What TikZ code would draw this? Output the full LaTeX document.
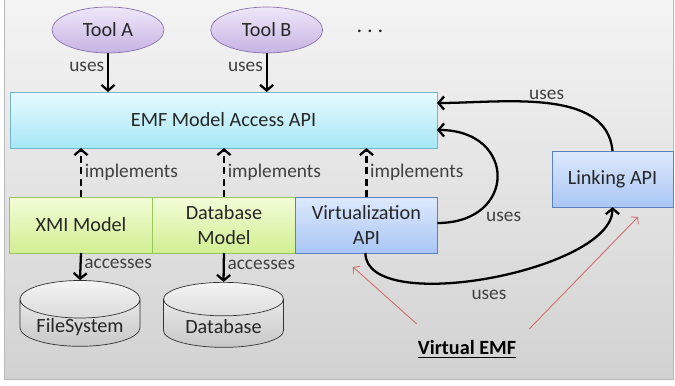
\documentclass[tikz,border=0pt]{standalone}
\usepackage{fontspec}
\setmainfont{Carlito}
\usetikzlibrary{shapes,arrows.meta,positioning,calc}
\definecolor{bgtop}{HTML}{F4F4F4}
\definecolor{bgbot}{HTML}{D2D2D2}
\definecolor{tooltop}{HTML}{EFE7F9}
\definecolor{toolbot}{HTML}{C7B3E3}
\definecolor{toolline}{HTML}{8A72B2}
\definecolor{emftop}{HTML}{E8FBFE}
\definecolor{emfbot}{HTML}{A6E6F6}
\definecolor{emfline}{HTML}{70B6C8}
\definecolor{modtop}{HTML}{F2FCD8}
\definecolor{modbot}{HTML}{D2EF92}
\definecolor{modline}{HTML}{98C85A}
\definecolor{virttop}{HTML}{DDE9FD}
\definecolor{virtbot}{HTML}{A9C6F4}
\definecolor{virtline}{HTML}{5A82C0}
\definecolor{storetop}{HTML}{F4F4F4}
\definecolor{storebot}{HTML}{C8C8C8}
\definecolor{hintred}{HTML}{D46A6A}
\definecolor{textgray}{HTML}{262626}
\definecolor{labelgray}{HTML}{404040}
\tikzstyle{tool} = [ellipse, draw=toolline, top color=tooltop, bottom color=toolbot, minimum width=2.24cm, minimum height=0.92cm, font=\fontsize{11.5}{13}\selectfont]
\tikzstyle{emfbox} = [rectangle, draw=emfline, top color=emftop, bottom color=emfbot, outer sep=0pt, minimum width=8.54cm, minimum height=1.12cm, font=\fontsize{11.5}{13}\selectfont]
\tikzstyle{model} = [rectangle, draw=modline, top color=modtop, bottom color=modbot, outer sep=0pt, align=center, minimum width=2.86cm, minimum height=1.12cm, font=\fontsize{11.5}{14}\selectfont]
\tikzstyle{virtbox} = [rectangle, draw=virtline, top color=virttop, bottom color=virtbot, outer sep=0pt, align=center, minimum width=2.84cm, minimum height=1.12cm, font=\fontsize{11.5}{14}\selectfont]
\tikzstyle{store} = [cylinder, shape border rotate=90, aspect=0.38, inner ysep=0pt, draw=black!80, top color=storetop, bottom color=storebot, minimum width=2.4cm, minimum height=1.3cm, font=\fontsize{11.5}{13}\selectfont]
\tikzstyle{uses} = [draw, line width=1.3pt, -{Straight Barb[length=3.2pt,width=7.5pt]}]
\tikzstyle{impl} = [uses, dash pattern=on 4pt off 2.5pt]
\tikzstyle{hint} = [draw=hintred, line width=0.5pt, -{Straight Barb[length=2.5pt,width=6pt]}]
\tikzstyle{lbl} = [text=labelgray, inner sep=1.5pt, font=\fontsize{11}{13}\selectfont]

\begin{document}
\begin{tikzpicture}[x=0.02cm, y=-0.02cm, every node/.style={text=textgray}]
	\useasboundingbox (0,0) rectangle (675,385);
	\path[top color=bgtop, bottom color=bgbot, draw=gray!55] (4,-1) rectangle (673,379);

	% Tools
	\node [tool] (toolA) at (108,30) {Tool A};
	\node [tool, right=0.92cm of toolA] (toolB) {Tool B};
	\node (dots) at (370,31) {\textbf{.\,\,.\,\,.}};

	% API layer
	\node [emfbox] (emf) at (223.5,120) {EMF Model Access API};

	% Implementations
	\node [model] (xmi) at (81,225) {XMI Model};
	\node [model, right=0pt of xmi] (dbmodel) {Database\\Model};
	\node [virtbox, right=0pt of dbmodel] (virt) {Virtualization\\API};
	\node [virtbox, minimum width=2.42cm] (link) at (612.5,179) {Linking API};

	% Storage
	\node [store] (fs) at (80,327) {FileSystem};
	\node [store] (db) at (223.5,327) {Database};

	% Virtual EMF
	\node [font=\fontsize{11.5}{13}\selectfont\bfseries, text=black] (vemf) at (467,349) {\underline{Virtual EMF}};
	\coordinate (virtHint) at (353,267);
	\coordinate (linkHint) at (638,217);

	% Paths
	\path [uses] (toolA.south) -- node[lbl, left, pos=0.35] {uses} (toolA.south |- emf.north);
	\path [uses] (toolB.south) -- node[lbl, left, pos=0.35] {uses} (toolB.south |- emf.north);
	\path [impl] (xmi.north) -- node[lbl, right] {implements} (xmi.north |- emf.south);
	\path [impl] (dbmodel.north) -- node[lbl, right] {implements} (dbmodel.north |- emf.south);
	\path [impl] (virt.north) -- node[lbl, right] {implements} (virt.north |- emf.south);
	\path [uses] (xmi.south) -- node[lbl, right, pos=0.4] {accesses} (fs.north);
	\path [uses] (dbmodel.south) -- node[lbl, right, pos=0.4] {accesses} (db.north);
	\path [uses] (link.north) to [out=95, in=0, looseness=0.9] node[lbl, above, pos=0.5] {uses} ([yshift=0.34cm]emf.east);
	\path [uses] ([yshift=0.04cm]virt.east) to [out=0, in=0, looseness=2.2] node[lbl, below right, pos=0.25] {uses} ([yshift=-0.2cm]emf.east);
	\path [uses] ([xshift=-0.02cm]virt.south) to [out=-90, in=-90, looseness=0.65] node[lbl, below=5pt, pos=0.5] {uses} (link.south);
	\path [hint] ([shift={(0.1cm,0.2cm)}]vemf.north west) -- (virtHint);
	\path [hint] ([shift={(0.14cm,0.1cm)}]vemf.north east) -- (linkHint);
\end{tikzpicture}
\end{document}
